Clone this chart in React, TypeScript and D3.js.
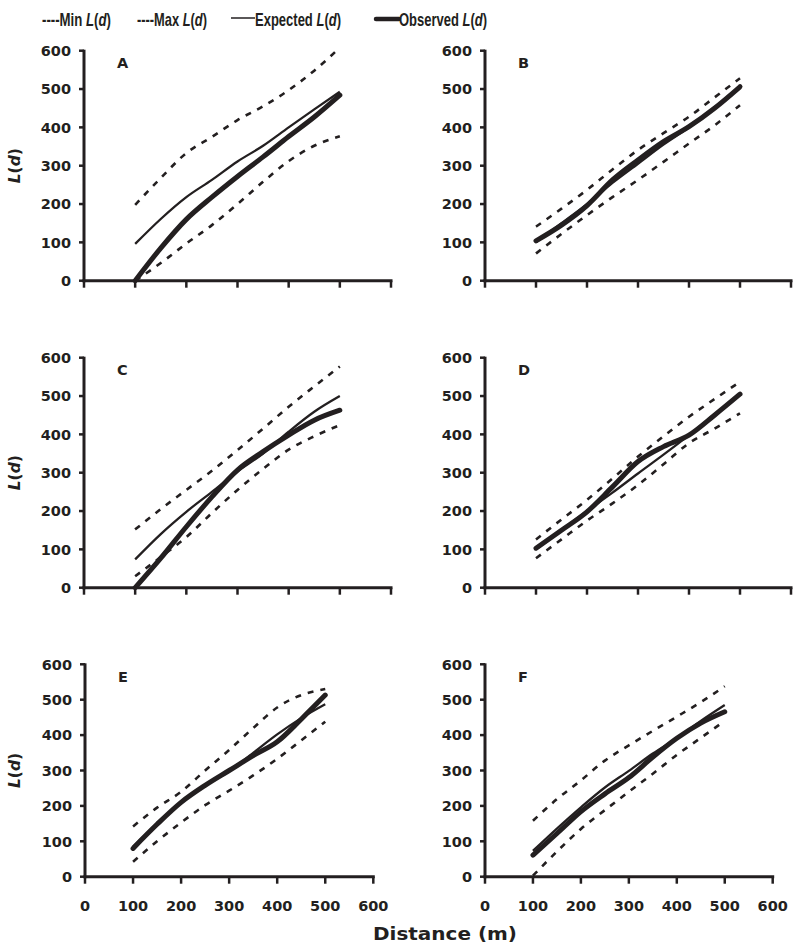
import React, { useLayoutEffect, useRef, useState } from "react";
import * as d3 from "d3";

const distances = [100, 150, 200, 250, 300, 350, 400, 450, 500];

const expA = [96, 161, 218, 263, 311, 352, 400, 447, 493];
const obsA = [0, 85, 160, 218, 272, 323, 376, 427, 484];
const maxA = [198, 268, 333, 375, 419, 455, 497, 548, 608];
const minA = [0, 46, 97, 145, 200, 258, 312, 352, 377];

const expB = [100, 150, 200, 255, 305, 355, 400, 452, 503];
const obsB = [104, 145, 196, 263, 315, 363, 402, 450, 506];
const maxB = [141, 188, 237, 290, 341, 385, 428, 478, 528];
const minB = [71, 122, 171, 218, 263, 310, 358, 405, 458];

const expC = [74, 140, 198, 250, 303, 350, 407, 459, 500];
const obsC = [0, 77, 159, 237, 307, 355, 398, 437, 463];
const maxC = [152, 205, 255, 305, 359, 415, 472, 525, 577];
const minC = [30, 80, 132, 195, 255, 310, 360, 395, 424];

const expD = [100, 150, 200, 248, 298, 347, 398, 452, 505];
const obsD = [103, 150, 198, 263, 329, 368, 398, 450, 505];
const maxD = [126, 178, 229, 285, 342, 395, 446, 492, 537];
const minD = [77, 126, 175, 220, 268, 322, 377, 415, 455];

const expE = [85, 150, 210, 258, 298, 350, 402, 448, 487];
const obsE = [80, 148, 210, 258, 300, 342, 381, 445, 513];
const maxE = [142, 195, 240, 300, 358, 420, 478, 513, 530];
const minE = [42, 100, 153, 202, 243, 286, 333, 385, 438];

const expF = [73, 136, 196, 252, 299, 348, 391, 440, 485];
const obsF = [61, 122, 184, 234, 280, 338, 391, 434, 466];
const maxF = [158, 219, 272, 328, 371, 412, 452, 493, 538];
const minF = [3, 71, 135, 188, 240, 291, 344, 392, 440];

const xTicks = [0, 100, 200, 300, 400, 500, 600];
const yTicks = [0, 100, 200, 300, 400, 500, 600];

const panelLetters = ["A", "B", "C", "D", "E", "F"];
const panelSeries = [
  { min: minA, max: maxA, exp: expA, obs: obsA },
  { min: minB, max: maxB, exp: expB, obs: obsB },
  { min: minC, max: maxC, exp: expC, obs: obsC },
  { min: minD, max: maxD, exp: expD, obs: obsD },
  { min: minE, max: maxE, exp: expE, obs: obsE },
  { min: minF, max: maxF, exp: expF, obs: obsF },
];

const legendNames = ["Min", "Max", "Expected", "Observed"];

// layout (pixels)
const layouts = [
  { x0: 84, x1: 391, yTop: 50.7, yBot: 280.7 },
  { x0: 485, x1: 791, yTop: 50.7, yBot: 280.7 },
  { x0: 84, x1: 391, yTop: 357.7, yBot: 587.7 },
  { x0: 485, x1: 791, yTop: 357.7, yBot: 587.7 },
  { x0: 85, x1: 373.3, yTop: 664.3, yBot: 876.7 },
  { x0: 485, x1: 772.7, yTop: 664.3, yBot: 876.7 },
];

const INK = "#231f20";
const TICK_FONT = "'DejaVu Sans', Arial, sans-serif";
const LEG_FONT = "'Liberation Sans', Arial, sans-serif";

function Panel({ idx }: { idx: number }) {
  const L = layouts[idx];
  const s = panelSeries[idx];
  const x = d3.scaleLinear().domain([0, 600]).range([L.x0, L.x1]);
  const y = d3.scaleLinear().domain([0, 600]).range([L.yBot, L.yTop]);
  const line = d3
    .line<number>()
    .x((_, i) => x(distances[i]))
    .y((v) => y(v))
    .curve(d3.curveMonotoneX);
  const isLeft = idx % 2 === 0;
  const isBottom = idx >= 4;
  const midY = (L.yTop + L.yBot) / 2;
  return (
    <g>
      <path d={line(s.max) || ""} fill="none" stroke={INK} strokeWidth={2.6} strokeDasharray="6,7" />
      <path d={line(s.min) || ""} fill="none" stroke={INK} strokeWidth={2.6} strokeDasharray="6,7" />
      <path d={line(s.exp) || ""} fill="none" stroke={INK} strokeWidth={2.3} />
      <path d={line(s.obs) || ""} fill="none" stroke={INK} strokeWidth={5} strokeLinecap="round" />
      <line x1={x(0)} x2={x(0)} y1={y(600) - 1} y2={y(0) + 1.5} stroke={INK} strokeWidth={3} />
      <line x1={x(0) - 1.5} x2={x(600) + 1.5} y1={y(0)} y2={y(0)} stroke={INK} strokeWidth={3} />
      {yTicks.map((t) => (
        <g key={"y" + t}>
          <line x1={x(0) - 5} x2={x(0)} y1={y(t)} y2={y(t)} stroke={INK} strokeWidth={2.5} />
          <text
            x={x(0) - 13}
            y={y(t)}
            dy="0.36em"
            textAnchor="end"
            fontFamily={TICK_FONT}
            fontWeight="bold"
            fontSize={14.5}
            fill={INK}
          >
            {t}
          </text>
        </g>
      ))}
      {xTicks.map((t) => (
        <g key={"x" + t}>
          <line x1={x(t)} x2={x(t)} y1={y(0)} y2={y(0) + 7} stroke={INK} strokeWidth={2.5} />
          {isBottom && (
            <text
              x={x(t)}
              y={y(0) + 34}
              textAnchor="middle"
              fontFamily={TICK_FONT}
              fontWeight="bold"
              fontSize={14.5}
              fill={INK}
            >
              {t}
            </text>
          )}
        </g>
      ))}
      <text
        x={x(0) + 33}
        y={L.yTop + 17.5}
        fontFamily={TICK_FONT}
        fontWeight="bold"
        fontSize={14.5}
        fill={INK}
      >
        {panelLetters[idx]}
      </text>
      {isLeft && (
        <text
          transform={`translate(20,${midY}) rotate(-90)`}
          textAnchor="middle"
          fontFamily={TICK_FONT}
          fontWeight="bold"
          fontSize={15.5}
          fill={INK}
        >
          <tspan fontStyle="italic">L</tspan>
          <tspan>(</tspan>
          <tspan fontStyle="italic">d</tspan>
          <tspan>)</tspan>
        </text>
      )}
    </g>
  );
}

function LegendLabel({ x, prefix, name, width }: { x: number; prefix: string; name: string; width: number }) {
  const ref = useRef<SVGTextElement>(null);
  const [sx, setSx] = useState(0.8);
  useLayoutEffect(() => {
    if (ref.current) {
      const w = ref.current.getBBox().width;
      if (w > 0) setSx(width / w);
    }
  }, [width]);
  return (
    <g transform={`translate(${x},26) scale(${sx},1)`}>
      <text ref={ref} x={0} y={0} fontFamily={LEG_FONT} fontWeight="bold" fontSize={18} fill={INK}>
        <tspan>{prefix + name + " "}</tspan>
        <tspan fontStyle="italic">L</tspan>
        <tspan>(</tspan>
        <tspan fontStyle="italic">d</tspan>
        <tspan>)</tspan>
      </text>
    </g>
  );
}

export default function App() {
  return (
    <svg
      width={800}
      height={948}
      style={{ position: "absolute", left: 0, top: 0, background: "#fff" }}
    >
      <rect x={0} y={0} width={800} height={948} fill="#fff" />
      <LegendLabel x={42} prefix="----" name={legendNames[0]} width={69} />
      <LegendLabel x={137} prefix="----" name={legendNames[1]} width={70} />
      <line x1={231} x2={255} y1={18} y2={18} stroke={INK} strokeWidth={1.5} />
      <LegendLabel x={255} prefix="" name={legendNames[2]} width={86} />
      <line x1={376} x2={399} y1={19} y2={19} stroke={INK} strokeWidth={4.5} strokeLinecap="round" />
      <LegendLabel x={399} prefix="" name={legendNames[3]} width={88} />
      {panelLetters.map((_, i) => (
        <Panel key={i} idx={i} />
      ))}
      <text
        x={373}
        y={940}
        fontFamily={TICK_FONT}
        fontWeight="bold"
        fontSize={17}
        fill={INK}
        textLength={144}
        lengthAdjust="spacingAndGlyphs"
      >
        Distance (m)
      </text>
    </svg>
  );
}
